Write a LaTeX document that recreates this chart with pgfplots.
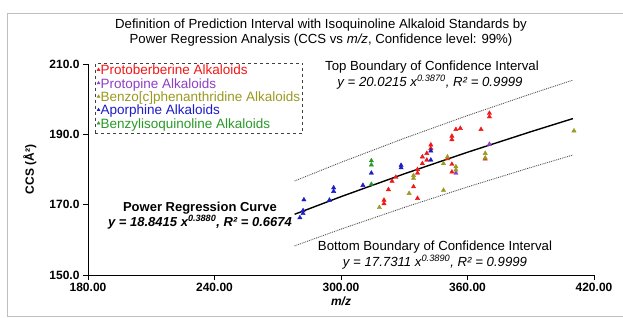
\documentclass[border=0pt]{standalone}
\usepackage{pgfplots}
\pgfplotsset{compat=1.18}
\usepackage{fontspec}
\setmainfont{Liberation Sans}
\definecolor{cred}{HTML}{F01818}
\definecolor{cpurple}{HTML}{8E3FC4}
\definecolor{colive}{HTML}{9A9A22}
\definecolor{cblue}{HTML}{1C1CC8}
\definecolor{cgreen}{HTML}{2A992A}
\begin{document}
\begin{tikzpicture}[x=1pt,y=1pt]
\useasboundingbox (0,0) rectangle (623,317);
\draw[black!25, line width=0.8pt] (7,1) -- (7,304) -- (623,304);
\draw[black!25, line width=0.8pt] (7,1) -- (623,1);
\begin{axis}[
  at={(88pt,42pt)}, anchor=south west,
  scale only axis, width=506pt, height=211pt,
  xmin=180, xmax=420, ymin=150, ymax=210,
  axis x line*=bottom, axis y line*=left,
  axis line style={-, line width=1pt},
  every outer x axis line/.append style={-},
  every outer y axis line/.append style={-},
  xtick={180,240,300,360,420},
  xticklabels={180.00,240.00,300.00,360.00,420.00},
  ytick={150,170,190,210},
  yticklabels={150.0,170.0,190.0,210.0},
  tick align=outside, major tick length=5pt,
  tick style={black, line width=0.8pt},
  minor tick num=0,
  ticklabel style={font=\bfseries\fontsize{12}{14}\selectfont},
  xlabel={\textbf{\textit{m/z}}},
  ylabel={\textbf{CCS (Å²)}},
  label style={font=\fontsize{12}{14}\selectfont},
  xlabel style={at={(axis description cs:0.5,-0.125)}, anchor=center},
  ylabel style={at={(axis description cs:-0.115,0.5)}, anchor=center},
  clip=false,
  legend style={at={(0.014,1.006)}, anchor=north west, draw=black!75, dashed,
    font=\fontsize{13.5}{14}\selectfont, row sep=0pt, inner sep=1.8pt,
    nodes={inner sep=0.6pt, text height=9.4pt, text depth=2.8pt},
    /tikz/every even column/.append style={column sep=3pt}},
  legend cell align=left,
  legend image code/.code={\draw[solid] plot[mark=triangle*, mark size=1.7pt] coordinates {(0.1cm,0.06cm)};},
]
% Regression curves (values from the fitted power laws shown)
\addplot[black!70, densely dotted, line width=0.9pt, forget plot] coordinates {
(278,176.74) (300,182.03) (330,188.87) (360,195.34) (390,201.48) (410,205.42)};
\addplot[black!70, densely dotted, line width=0.9pt, forget plot] coordinates {
(278,158.29) (300,163.05) (330,169.21) (360,175.04) (390,180.58) (410,184.12)};
\addplot[black, line width=1.4pt, forget plot] coordinates {
(278,167.27) (300,172.28) (330,178.77) (360,184.91) (390,190.74) (410,194.48)};
% Protoberberine
\addplot[only marks, mark=triangle*, mark size=2.5pt, color=cred] coordinates {
(320.4,170.3) (320.4,171.3) (322.5,174.3) (324.2,176.7) (326,177.8)
(336.3,171.8) (334.4,175.1) (336.3,179.0) (336.3,180.0) (338.6,181.7)
(338.6,183.6) (340.7,182.7) (340.7,184.6) (342.6,186.0) (342.6,187.0)
(350.5,183.1) (352.6,181.5) (352.6,179.3) (352.6,188.5) (352.6,189.5)
(354.5,191.4) (356.6,191.7) (366.4,191.4) (370.4,195.0) (370.4,196.0)
(368.4,183.0)};
\addlegendentry{\color{cred}Protoberberine Alkaloids}
% Protopine
\addplot[only marks, mark=triangle*, mark size=2.5pt, color=cpurple] coordinates {
(370.4,187.2) (354.5,179.0)};
\addlegendentry{\color{cpurple}Protopine Alkaloids}
% Benzo[c]phenanthridine
\addplot[only marks, mark=triangle*, mark size=2.5pt, color=colive] coordinates {
(318.2,169.2) (332.3,173.2) (334.4,177.5) (334.4,178.3) (348.6,174.1)
(348.6,181.7) (350.5,183.6) (354.5,180.8) (354.5,179.9) (368.4,184.6)
(368.4,183.3) (410.5,191.0)};
\addlegendentry{\color{colive}Benzo[c]phenanthridine Alkaloids}
% Aporphine
\addplot[only marks, mark=triangle*, mark size=2.5pt, color=cblue] coordinates {
(280.5,166.3) (282,167.5) (282,168.3) (282.4,171.4) (294.5,171.3)
(296.5,173.8) (296.5,174.8) (310.4,175.5) (314.4,179.0) (328.5,180.5)
(328.5,181.2) (342.6,182.7) (342.6,185.3)};
\addlegendentry{\color{cblue}Aporphine Alkaloids}
% Benzylisoquinoline
\addplot[only marks, mark=triangle*, mark size=2.5pt, color=cgreen] coordinates {
(314.4,175.8) (314.4,181.3) (314.4,182.5)};
\addlegendentry{\color{cgreen}Benzylisoquinoline Alkaloids}
\end{axis}
% Title
\node[font=\fontsize{13.2}{15}\selectfont] at (321,292) {Definition of Prediction Interval with Isoquinoline Alkaloid Standards by};
\node[font=\fontsize{13.2}{15}\selectfont] at (321,277) {Power Regression Analysis (CCS vs \textit{m/z}, Confidence level: 99\%)};
% Annotations
\node[font=\fontsize{13.2}{14}\selectfont] at (432,250) {Top Boundary of Confidence Interval};
\node[font=\fontsize{13.2}{14}\selectfont] at (430,235) {\textit{y = 20.0215 x\textsuperscript{0.3870}, R² = 0.9999}};
\node[font=\fontsize{13.2}{14}\selectfont] at (435,70) {Bottom Boundary of Confidence Interval};
\node[font=\fontsize{13.2}{14}\selectfont] at (435,55) {\textit{y = 17.7311 x\textsuperscript{0.3890}, R² = 0.9999}};
\node[font=\bfseries\fontsize{13}{14}\selectfont] at (200,109) {Power Regression Curve};
\node[font=\bfseries\fontsize{13}{14}\selectfont] at (200,95) {\textit{y = 18.8415 x\textsuperscript{0.3880}, R² = 0.6674}};
\end{tikzpicture}
\end{document}
